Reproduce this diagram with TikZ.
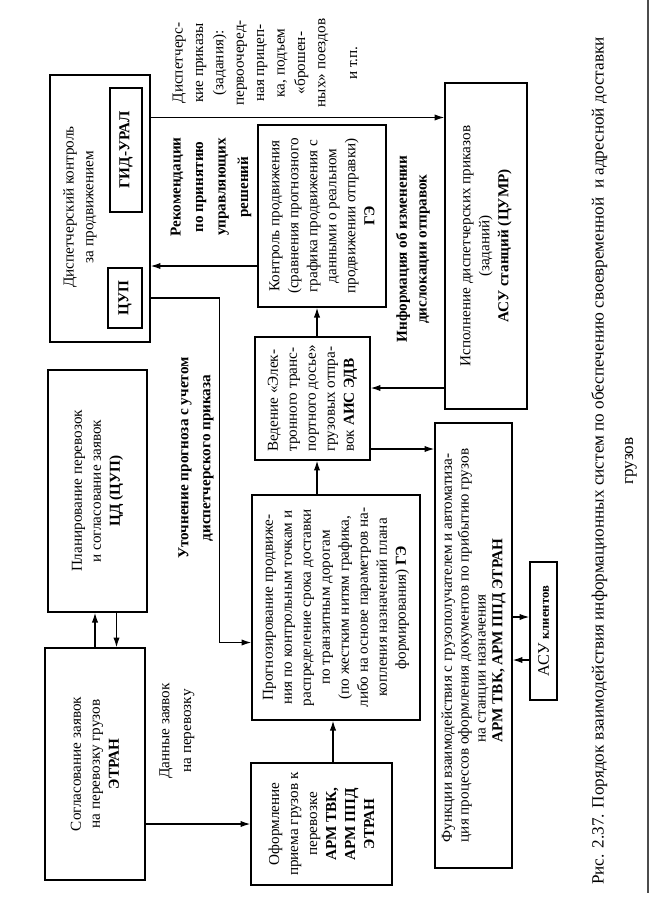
\documentclass[tikz,border=0pt]{standalone}
\usepackage{fontspec}
\setmainfont{Liberation Serif}
\usetikzlibrary{arrows.meta,calc}

\tikzset{
  box/.style={draw, line width=0.9pt, align=center, inner sep=2pt, rotate=90,
    font=\fontsize{10.8}{13.5}\selectfont},
  subbox/.style={draw, line width=0.9pt, inner sep=1pt, rotate=90,
    font=\bfseries\fontsize{10.8}{12}\selectfont},
  txt/.style={align=center, inner sep=0pt, rotate=90,
    font=\fontsize{10.8}{14.5}\selectfont},
  lbl/.style={align=center, inner sep=0pt, rotate=90,
    font=\bfseries\fontsize{10.8}{15.5}\selectfont},
  arr/.style={line width=0.9pt, -{Latex[length=7pt,width=4.5pt]}},
}

\begin{document}
\begin{tikzpicture}[x=0.025cm, y=-0.025cm]
  \useasboundingbox (0,0) rectangle (651,901);
  % Boxes
  \node[box, minimum width=5.8cm, minimum height=2.5cm] (sogl) at (95,764)
    {Согласование заявок\\на перевозку грузов\\\textbf{ЭТРАН}};
  \node[box, minimum width=6.05cm, minimum height=2.475cm] (plan) at (97.5,491)
    {Планирование перевозок\\и согласование заявок\\\textbf{ЦД (ЦУП)}};
  \node[box, minimum width=6.675cm, minimum height=2.5cm] (disp) at (100,208.5) {};
  \node[txt, font=\fontsize{10.8}{14}\selectfont] (dispt) at (80,207)
    {Диспетчерский контроль\\за продвижением};
  \node[subbox, minimum width=1.5cm, minimum height=0.85cm] (cup) at (125,298) {ЦУП};
  \node[subbox, minimum width=3.1cm, minimum height=0.8cm] (gid) at (126,150) {ГИД-УРАЛ};
  \node[box, minimum width=5.625cm, minimum height=4.2cm] (prog) at (336,607.5)
    {Прогнозирование продвиже-\\ния по контрольным точкам и\\распределение срока доставки\\
     по транзитным дорогам\\(по жестким нитям графика,\\либо на основе параметров на-\\
     копления назначений плана\\формирования) \textbf{ГЭ}};
  \node[box, minimum width=3.05cm, minimum height=3.525cm] (ofor) at (321.5,824)
    {Оформление\\приема грузов к\\перевозке\\\textbf{АРМ ТВК,}\\\textbf{АРМ ППД}\\\textbf{ЭТРАН}};
  \node[box, align=left, minimum width=3.075cm, minimum height=2.875cm] (edv) at (312.5,398.5)
    {Ведение «Элек-\\тронного транс-\\портного досье»\\грузовых отпра-\\вок \textbf{АИС ЭДВ}};
  \node[box, minimum width=4.55cm, minimum height=3.2cm] (kontr) at (322,216)
    {Контроль продвижения\\(сравнения прогнозного\\графика продвижения с\\данными о реальном\\
     продвижении отправки)\\\textbf{ГЭ}};
  \node[box, minimum width=8.15cm, minimum height=2.05cm] (isp) at (486,246)
    {Исполнение диспетчерских приказов\\(заданий)\\\textbf{АСУ станций (ЦУМР)}};
  \node[box, align=left, minimum width=11.125cm, minimum height=1.925cm,
    font=\fontsize{10.8}{12}\selectfont] (funk) at (473.5,645.5)
    {Функции взаимодействия с грузополучателем и автоматиза-\\
     ция процессов оформления документов по прибытию грузов\\
     \hspace*{2.5cm}на станции назначения\\
     \hspace*{2.5cm}\textbf{АРМ ТВК, АРМ ППД ЭТРАН}};
  \node[box, inner sep=0pt, minimum width=3.45cm, minimum height=0.675cm] (asu) at (543.5,631)
    {{\fontsize{11.5}{12}\selectfont АСУ} {\bfseries\fontsize{9}{10}\selectfont клиентов}};
  % Labels
  \node[txt, font=\fontsize{10.8}{15.5}\selectfont] (dannye) at (177,731)
    {Данные заявок\\на перевозку};
  \node[lbl] (utoch) at (196,458) {Уточнение прогноза с учетом\\диспетчерского приказа};
  \node[lbl, font=\bfseries\fontsize{10.8}{16}\selectfont] (rekom) at (211,187)
    {Рекомендации\\по принятию\\управляющих\\решений};
  \node[txt] (disprik) at (265,63)
    {Диспетчерс-\\кие приказы\\(задания):\\первоочеред-\\ная прицеп-\\ка, подъем\\
     «брошен-\\ных» поездов\\[8pt]и т.п.};
  \node[lbl, font=\bfseries\fontsize{10.8}{14}\selectfont] (info) at (413,249)
    {Информация об изменении\\дислокации отправок};
  \node[txt, font=\fontsize{12.2}{21}\selectfont] (capt) at (614,461)
    {Рис. 2.37. Порядок взаимодействия информационных систем по обеспечению
     своевременной \ и адресной доставки\\грузов};
  % Connectors
  \draw[arr] (sogl.south |- ofor) -- (ofor.north);
  \draw[arr] (sogl.east) -- (sogl.east |- plan.west);
  \draw[arr] ($(plan.west)+(19,0)$) coordinate (p1) -- (p1 |- sogl.east);
  \draw[arr] (disp.south |- cup) -- ++(69,0) |- ($(prog.north)+(0,35)$);
  \draw[arr] ($(kontr.north)+(0,50)$) coordinate (k1) -- (k1 -| disp.south);
  \draw[arr] ($(disp.south)+(0,-91)$) coordinate (d1) -- (d1 -| isp.north);
  \draw[arr] ($(ofor.east)+(11.5,0)$) coordinate (o1) -- (o1 |- prog.west);
  \draw[arr] ($(prog.east)+(-19,0)$) coordinate (r1) -- (r1 |- edv.west);
  \draw[arr] (r1 |- edv.east) -- (r1 |- kontr.west);
  \draw[arr] ($(isp.north)+(0,142)$) coordinate (i1) -- (i1 -| edv.south);
  \draw[arr] ($(edv.south)+(0,50.5)$) coordinate (e1) -- (e1 -| funk.north);
  \coordinate (a1) at ($(asu.north)+(0,-14)$);
  \draw[arr] (a1 -| funk.south) -- (a1);
  \draw[arr] ($(asu.north)+(0,29)$) coordinate (a2) -- (a2 -| funk.south);
  % page edge
  \draw[line width=0.8pt, black!70] (648,0) -- (648,893);
\end{tikzpicture}
\end{document}
